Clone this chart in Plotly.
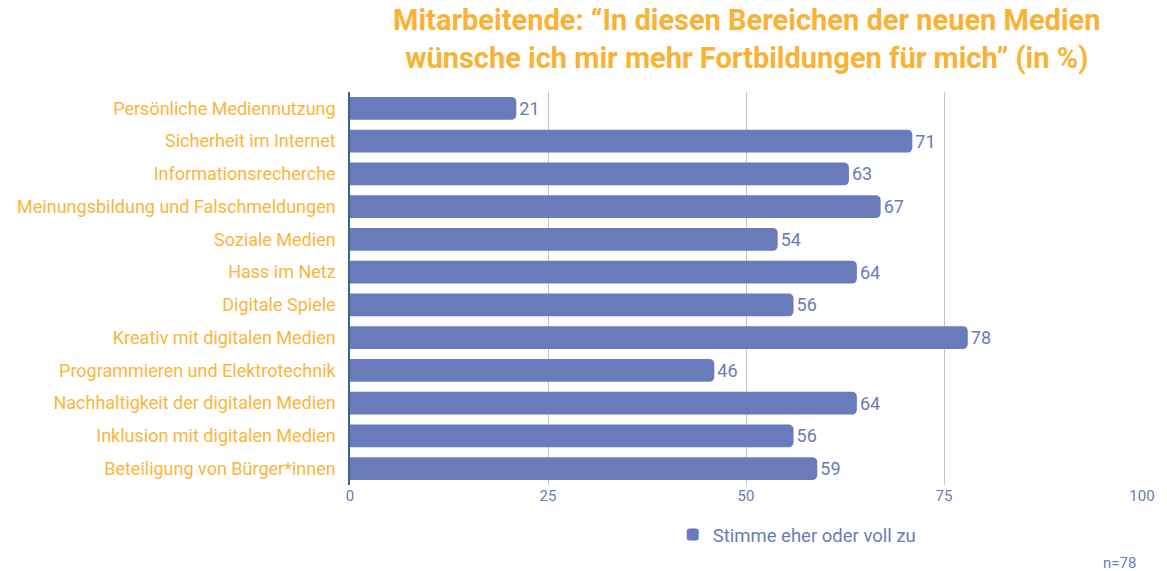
import plotly.graph_objects as go

categories = [
    "Persönliche Mediennutzung",
    "Sicherheit im Internet",
    "Informationsrecherche",
    "Meinungsbildung und Falschmeldungen",
    "Soziale Medien",
    "Hass im Netz",
    "Digitale Spiele",
    "Kreativ mit digitalen Medien",
    "Programmieren und Elektrotechnik",
    "Nachhaltigkeit der digitalen Medien",
    "Inklusion mit digitalen Medien",
    "Beteiligung von Bürger*innen",
]
values = [21, 71, 63, 67, 54, 64, 56, 78, 46, 64, 56, 59]
series_name = "Stimme eher oder voll zu"
x_ticks = [0, 25, 50, 75, 100]
title_text = "Mitarbeitende: “In diesen Bereichen der neuen Medien<br>wünsche ich mir mehr Fortbildungen für mich” (in %)"
note_text = "n=78"

BAR = "#6a7bbb"
ORANGE = "#f9b233"
LABEL_ORANGE = "#fbb53c"

fig = go.Figure()
fig.add_trace(go.Bar(
    y=categories,
    x=values,
    orientation="h",
    name=series_name,
    marker=dict(color=BAR, line=dict(width=0)),
    text=[str(v) for v in values],
    textposition="outside",
    textfont=dict(color=BAR, size=18, family="Roboto"),
    cliponaxis=False,
))

fig.update_layout(
    width=1167, height=571,
    paper_bgcolor="white", plot_bgcolor="white",
    margin=dict(l=350, r=22, t=92, b=86),
    bargap=0.3,
    barcornerradius=5,
    xaxis=dict(
        range=[0, 100],
        tickvals=x_ticks,
        showgrid=True, gridcolor="#c4c4c4", gridwidth=1,
        zeroline=False, showline=False,
        tickfont=dict(family="Roboto", size=15, color=BAR),
        ticks="", ticklen=0,
    ),
    yaxis=dict(
        autorange="reversed",
        showline=True, linecolor="#3c6484", linewidth=1.5,
        tickfont=dict(family="Roboto", size=18, color=LABEL_ORANGE),
        ticks="", ticklabelstandoff=9,
        showgrid=False,
    ),
    showlegend=True,
    legend=dict(
        orientation="h",
        x=0.4075, xanchor="left",
        y=-0.079, yanchor="top",
        font=dict(family="Roboto", size=18.5, color=BAR),
    ),
    annotations=[
        dict(
            text=title_text, xref="paper", yref="paper",
            x=0.5, y=1.1336, xanchor="center", yanchor="middle",
            showarrow=False, align="center",
            font=dict(family="Roboto", size=29, color=ORANGE, weight="bold"),
        ),
        dict(
            text=note_text, xref="paper", yref="paper",
            x=0.995, y=-0.198, xanchor="right", yanchor="middle",
            showarrow=False,
            font=dict(family="Roboto", size=15, color=BAR),
        ),
    ],
)

fig.write_html(
    "out.html",
    config={"displayModeBar": False},
    post_script="document.body.style.margin='0';document.body.style.overflow='hidden';",
)
